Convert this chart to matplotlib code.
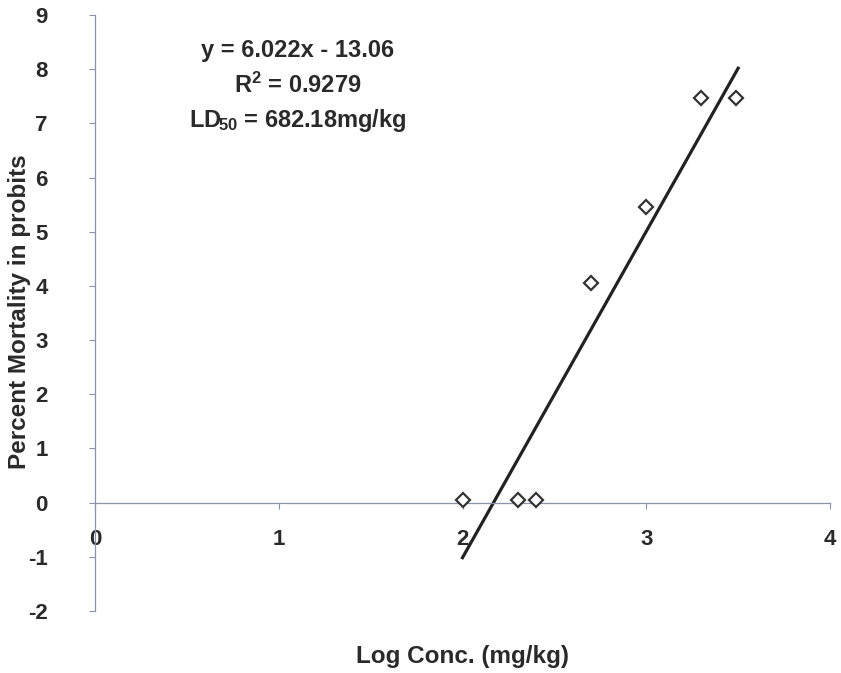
import matplotlib
matplotlib.use("Agg")
import matplotlib.pyplot as plt
import numpy as np

plt.rcParams['font.family'] = ['Liberation Sans', 'DejaVu Sans']
plt.rcParams['mathtext.fontset'] = 'custom'
plt.rcParams['mathtext.rm'] = 'Liberation Sans:bold'
plt.rcParams['mathtext.bf'] = 'Liberation Sans:bold'
plt.rcParams['mathtext.default'] = 'rm'
plt.rcParams['axes.unicode_minus'] = False

log_conc = [2.0, 2.3, 2.4, 2.7, 3.0, 3.3, 3.49]
probits = [0.05, 0.05, 0.05, 4.05, 5.45, 7.47, 7.47]
slope, intercept = 6.022, -13.06
fit_x = [2.0, 3.5]
x_ticks = [0, 1, 2, 3, 4]
y_ticks = [-2, -1, 0, 1, 2, 3, 4, 5, 6, 7, 8, 9]

txt = '#2a2a2a'
axc = '#8a93a8'

fig = plt.figure(figsize=(8.41, 6.73), dpi=100)
ax = fig.add_axes([95/841, 1-611/673, 735/841, (611-15)/673])

fx = np.array(fit_x)
ax.plot(fx, slope*fx + intercept, color='#222222', lw=2.3, zorder=2)
ax.plot(log_conc, probits, linestyle='none', marker='D', markersize=7,
        markerfacecolor='white', markeredgecolor='#333333', markeredgewidth=1.6, zorder=3)

ax.set_xlim(0, 4)
ax.set_ylim(-2, 9)
ax.spines['left'].set_position(('data', 0))
ax.spines['bottom'].set_position(('data', 0))
ax.spines['top'].set_visible(False)
ax.spines['right'].set_visible(False)
for s in ('left', 'bottom'):
    ax.spines[s].set_color(axc)
    ax.spines[s].set_linewidth(0.9)

ax.set_xticks(x_ticks)
ax.set_yticks(y_ticks)
ax.tick_params(axis='x', direction='out', length=4, width=0.8, color=axc, pad=15,
               labelsize=16, labelcolor=txt)
ax.tick_params(axis='y', direction='out', length=4, width=0.8, color=axc, pad=30,
               labelsize=16, labelcolor=txt)
for lab in ax.get_xticklabels() + ax.get_yticklabels():
    lab.set_fontweight('bold')

fig.text(20/841, 1-312/673, 'Percent Mortality in probits', rotation=90,
         ha='center', va='center', fontsize=17.5, fontweight='bold', color=txt)
fig.text(462/841, 1-657/673, 'Log Conc. (mg/kg)', ha='center', va='center',
         fontsize=17.5, fontweight='bold', color=txt)

fs = 17
fig.text(298/841, 1-50/673, 'y = 6.022x - 13.06', ha='center', va='center',
         fontsize=fs, fontweight='bold', color=txt)
fig.text(298/841, 1-85/673, r'R$^{2}$ = 0.9279', ha='center', va='center',
         fontsize=fs, fontweight='bold', color=txt)
fig.text(298/841, 1-121/673, r'LD$_{\!50}$ = 682.18mg/kg', ha='center', va='center',
         fontsize=fs, fontweight='bold', color=txt)

fig.savefig('out.png', dpi=100, facecolor='white')
